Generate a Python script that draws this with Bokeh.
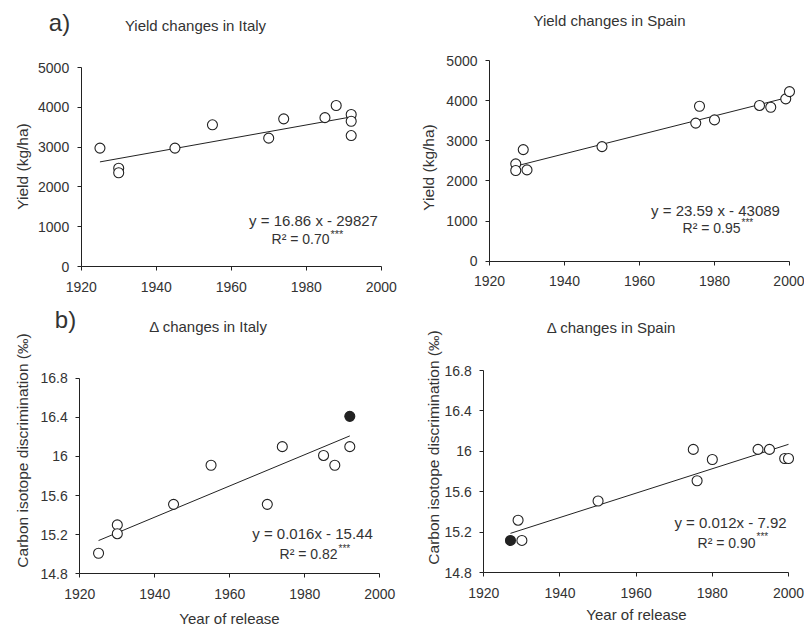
from bokeh.plotting import figure
from bokeh.layouts import column, row
from bokeh.models import Label, FixedTicker, CustomJSTickFormatter, Range1d, LinearAxis
from bokeh.embed import file_html
from bokeh.resources import INLINE
import math

# ---------------- data ----------------
year_ticks = [1920, 1940, 1960, 1980, 2000]
yield_ticks = [0, 1000, 2000, 3000, 4000, 5000]
delta_ticks = [14.8, 15.2, 15.6, 16.0, 16.4, 16.8]

italy_yield_year = [1925, 1930, 1930, 1945, 1955, 1970, 1974, 1985, 1988, 1992, 1992, 1992]
italy_yield = [2975, 2470, 2355, 2975, 3560, 3225, 3710, 3740, 4045, 3820, 3650, 3290]
italy_yield_fit_year = [1925, 1992]
italy_yield_fit = [2628, 3758]

spain_yield_year = [1927, 1927, 1929, 1930, 1950, 1975, 1976, 1980, 1992, 1995, 1999, 2000]
spain_yield = [2425, 2260, 2780, 2275, 2855, 3440, 3860, 3520, 3880, 3835, 4045, 4225]
spain_yield_fit_year = [1927, 2000]
spain_yield_fit = [2369, 4091]

italy_delta_year = [1925, 1930, 1930, 1945, 1955, 1970, 1974, 1985, 1988, 1992]
italy_delta = [15.01, 15.30, 15.21, 15.51, 15.91, 15.51, 16.10, 16.01, 15.91, 16.10]
italy_delta_filled_year = [1992]
italy_delta_filled = [16.41]
italy_delta_fit_year = [1925, 1992]
italy_delta_fit = [15.14, 16.21]

spain_delta_year = [1929, 1930, 1950, 1975, 1976, 1980, 1992, 1995, 1999, 2000]
spain_delta = [15.32, 15.12, 15.51, 16.02, 15.71, 15.92, 16.02, 16.02, 15.93, 15.93]
spain_delta_filled_year = [1927]
spain_delta_filled = [15.12]
spain_delta_fit_year = [1927, 2000]
spain_delta_fit = [15.19, 16.07]

FONT = "Liberation Sans"
TXT = "#333333"
LINE = "#222222"


class Panel:
    """A figure whose frame fills the whole canvas; axes sit at fixed data locations."""

    def __init__(self, origin, size, frame, xr, yr, yticks):
        ox, oy = origin
        fw, fh = size
        left, top, w, h = frame
        x0, x1 = xr
        y0, y1 = yr
        xs = (x1 - x0) / w
        ys = (y1 - y0) / h
        self.origin, self.size = origin, size
        self.xstart = x0 - (left - ox) * xs
        self.xend = x1 + (ox + fw - (left + w)) * xs
        self.ystart = y0 - (oy + fh - (top + h)) * ys
        self.yend = y1 + (top - oy) * ys
        p = figure(width=fw, height=fh,
                   x_range=Range1d(self.xstart, self.xend),
                   y_range=Range1d(self.ystart, self.yend),
                   output_backend="svg", toolbar_location=None,
                   x_axis_location=None, y_axis_location=None,
                   min_border=0, min_border_left=0, min_border_right=0,
                   min_border_top=0, min_border_bottom=0)
        p.outline_line_color = None
        p.xgrid.visible = False
        p.ygrid.visible = False
        p.background_fill_color = "white"
        p.border_fill_color = "white"

        xaxis = LinearAxis(fixed_location=y0, bounds=(x0, x1),
                           ticker=FixedTicker(ticks=year_ticks))
        yaxis = LinearAxis(fixed_location=x0, bounds=(y0, y1),
                           ticker=FixedTicker(ticks=yticks),
                           formatter=CustomJSTickFormatter(
                               code="return (Math.round(tick*10)/10).toString();"))
        for ax in (xaxis, yaxis):
            ax.axis_line_color = LINE
            ax.axis_line_width = 1
            ax.major_tick_line_color = LINE
            ax.major_tick_in = 0
            ax.major_tick_out = 4
            ax.minor_tick_line_color = None
            ax.major_label_text_font = FONT
            ax.major_label_text_font_size = "14px"
            ax.major_label_text_color = TXT
        xaxis.major_label_standoff = 11
        yaxis.major_label_standoff = 8
        p.add_layout(xaxis, "below")
        p.add_layout(yaxis, "left")
        self.p = p

    def to_data(self, px, py):
        ox, oy = self.origin
        fw, fh = self.size
        x = self.xstart + (px - ox) / fw * (self.xend - self.xstart)
        y = self.ystart + (oy + fh - py) / fh * (self.yend - self.ystart)
        return x, y

    def text(self, px, py, s, size="14px", align="center", angle=0.0):
        x, y = self.to_data(px, py)
        self.p.add_layout(Label(x=x, y=y, text=s, text_font=FONT, text_font_size=size,
                                text_color=TXT, text_align=align, text_baseline="middle",
                                angle=angle))


def points(pn, xs, ys, filled=False):
    pn.p.scatter(xs, ys, marker="circle", size=10,
                 fill_color=LINE if filled else "white",
                 line_color=LINE, line_width=1.1)


def fit(pn, xs, ys):
    pn.p.line(xs, ys, line_color=LINE, line_width=1)


# ---------------- panels ----------------
p1 = Panel((0, 0), (413, 300), (80.7, 67, 300, 199), (1920, 2000), (0, 5000), yield_ticks)
fit(p1, italy_yield_fit_year, italy_yield_fit)
points(p1, italy_yield_year, italy_yield)
p1.text(59, 22, "a)", size="24px")
p1.text(195, 25, "Yield changes in Italy", size="15px")
p1.text(22, 166, "Yield (kg/ha)", size="15.5px", angle=math.pi / 2)
p1.text(313, 220, "y = 16.86 x - 29827", size="15px")
p1.text(329, 238, "R² = 0.70", align="right")
p1.text(330, 233, "***", size="11px", align="left")

p2 = Panel((413, 0), (391, 300), (489, 60, 300, 200.7), (1920, 2000), (0, 5000), yield_ticks)
fit(p2, spain_yield_fit_year, spain_yield_fit)
points(p2, spain_yield_year, spain_yield)
p2.text(609, 20, "Yield changes in Spain", size="15px")
p2.text(428, 167, "Yield (kg/ha)", size="15.5px", angle=math.pi / 2)
p2.text(715, 210, "y = 23.59 x - 43089", size="15px")
p2.text(740, 227, "R² = 0.95", align="right")
p2.text(741, 222, "***", size="10px", align="left")

p3 = Panel((0, 300), (413, 328), (79.3, 377.7, 300, 195.6), (1920, 2000), (14.8, 16.8), delta_ticks)
fit(p3, italy_delta_fit_year, italy_delta_fit)
points(p3, italy_delta_year, italy_delta)
points(p3, italy_delta_filled_year, italy_delta_filled, filled=True)
p3.text(65, 319, "b)", size="24px")
p3.text(208, 326, "Δ changes in Italy", size="15px")
p3.text(22, 450, "Carbon isotope discrimination (‰)", size="15.5px", angle=math.pi / 2)
p3.text(229, 618, "Year of release", size="15px")
p3.text(312, 533, "y = 0.016x - 15.44", size="15px")
p3.text(337, 553, "R² = 0.82", align="right")
p3.text(338, 548, "***", size="10px", align="left")

p4 = Panel((413, 300), (391, 328), (483.3, 370, 304.7, 202.3), (1920, 2000), (14.8, 16.8), delta_ticks)
fit(p4, spain_delta_fit_year, spain_delta_fit)
points(p4, spain_delta_year, spain_delta)
points(p4, spain_delta_filled_year, spain_delta_filled, filled=True)
p4.text(611, 327, "Δ changes in Spain", size="15px")
p4.text(433, 447, "Carbon isotope discrimination (‰)", size="15.5px", angle=math.pi / 2)
p4.text(636, 614, "Year of release", size="15px")
p4.text(730, 522, "y = 0.012x - 7.92", size="15px")
p4.text(755, 542, "R² = 0.90", align="right")
p4.text(756, 536, "***", size="10px", align="left")

layout = column(row(p1.p, p2.p), row(p3.p, p4.p))
open("out.html", "w").write(file_html(layout, INLINE))
